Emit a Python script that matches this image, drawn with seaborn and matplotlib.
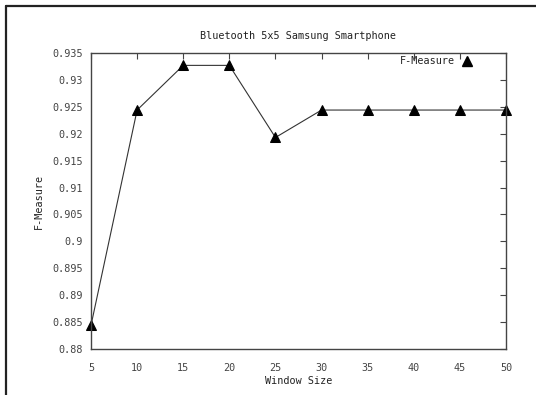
import matplotlib
matplotlib.use("Agg")
import matplotlib.pyplot as plt
from matplotlib.lines import Line2D
import seaborn as sns
import pandas as pd

window_sizes = [5, 10, 15, 20, 25, 30, 35, 40, 45, 50]
f_measure = [0.8844, 0.9244, 0.9327, 0.9327, 0.9193, 0.9244, 0.9244, 0.9244, 0.9244, 0.9244]
x_ticks = [5, 10, 15, 20, 25, 30, 35, 40, 45, 50]
y_ticks = [0.88, 0.885, 0.89, 0.895, 0.9, 0.905, 0.91, 0.915, 0.92, 0.925, 0.93, 0.935]
y_tick_labels = ["0.88", "0.885", "0.89", "0.895", "0.9", "0.905", "0.91", "0.915",
                 "0.92", "0.925", "0.93", "0.935"]

df = pd.DataFrame({"Window Size": window_sizes, "F-Measure": f_measure})

sns.set_style("white")
plt.rcParams["font.family"] = ["DejaVu Sans Mono"]

W, H = 536, 395
fig = plt.figure(figsize=(W / 100, H / 100), dpi=100)
left, right, top, bottom = 91, 506, 53, 349
ax = fig.add_axes([left / W, 1 - bottom / H, (right - left) / W, (bottom - top) / H])

sns.lineplot(data=df, x="Window Size", y="F-Measure", ax=ax, color="#333333",
             linewidth=0.8, marker="^", markersize=6.5, markeredgecolor="black",
             markerfacecolor="black", label="F-Measure", legend=False, clip_on=False)

ax.set_xlim(5, 50)
ax.set_ylim(0.88, 0.935)
ax.set_xticks(x_ticks)
ax.set_xticklabels([str(v) for v in x_ticks])
ax.set_yticks(y_ticks)
ax.set_yticklabels(y_tick_labels)

txt_color = "#444444"
ax.tick_params(direction="in", length=4, width=0.8, color="#444444",
               top=True, right=True, labelsize=7.3, labelcolor=txt_color)
ax.tick_params(axis="x", pad=10)
ax.tick_params(axis="y", pad=6)
for s in ax.spines.values():
    s.set_color("#444444")
    s.set_linewidth(1.0)

ax.set_xlabel("Window Size", fontsize=7.3, color="#222222", labelpad=2)
ax.set_ylabel("F-Measure", fontsize=7.3, color="#222222", labelpad=6)
ax.set_title("Bluetooth 5x5 Samsung Smartphone", fontsize=7.3, color="#222222", pad=10)

# legend entry in the upper right corner
ax.text(0.877, 0.972, "F-Measure", transform=ax.transAxes, ha="right", va="center",
        fontsize=7.3, color="#222222")
ax.plot([0.906], [0.972], transform=ax.transAxes, marker="^", markersize=6.5,
        color="black", linestyle="none", clip_on=False)

# outer frame along top and left edges
fig.add_artist(Line2D([6 / W, 1], [1 - 6 / H, 1 - 6 / H], transform=fig.transFigure,
                      color="#222222", linewidth=1.6))
fig.add_artist(Line2D([6 / W, 6 / W], [0, 1 - 6 / H], transform=fig.transFigure,
                      color="#222222", linewidth=1.6))

fig.savefig("out.png", dpi=100)
